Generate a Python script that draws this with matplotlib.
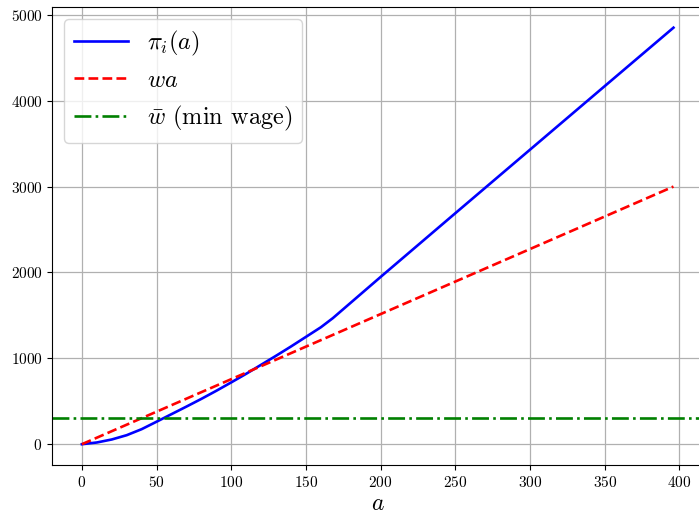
import matplotlib
matplotlib.use("Agg")
import matplotlib.pyplot as plt

plt.rcParams['font.family'] = 'serif'
plt.rcParams['font.serif'] = ['cmr10']
plt.rcParams['mathtext.fontset'] = 'cm'
plt.rcParams['axes.formatter.use_mathtext'] = True
plt.rcParams['axes.unicode_minus'] = False

# Data
a_vals = [0, 10, 20, 30, 40, 50, 60, 70, 80, 90, 100, 110, 120, 130, 140, 150,
          160, 168, 200, 250, 300, 350, 396]
pi_vals = [0, 20, 55, 105, 175, 262, 350, 438, 528, 622, 720, 820, 925, 1030,
           1138, 1250, 1362, 1468, 1948, 2690, 3430, 4170, 4850]
wa_a = [0, 396]
wa_vals = [0, 3000]
wbar = 300
xticks = [0, 50, 100, 150, 200, 250, 300, 350, 400]
yticks = [0, 1000, 2000, 3000, 4000, 5000]

fig = plt.figure(figsize=(6.99, 5.15), dpi=100)
ax = fig.add_axes([0.0748, 0.0971, 0.931, 0.890])

ax.plot(a_vals, pi_vals, color='blue', lw=1.9, label=r'$\pi_i(a)$')
ax.plot(wa_a, wa_vals, color='red', ls='--', lw=1.9, label=r'$wa$')
ax.axhline(wbar, color='green', ls='-.', lw=1.9, label=r'$\bar{w}$ (min wage)')

ax.set_xlim(-19.8, 415.8)
ax.set_ylim(-242, 5095)
ax.set_xticks(xticks)
ax.set_yticks(yticks)
ax.tick_params(labelsize=11)
ax.grid(True, color='#b0b0b0', lw=0.9)
ax.set_axisbelow(True)
ax.set_xlabel(r'$a$', fontsize=17, labelpad=2)
ax.legend(loc='upper left', fontsize=17.5, handlelength=2.2)

fig.savefig('out.png', dpi=100)
